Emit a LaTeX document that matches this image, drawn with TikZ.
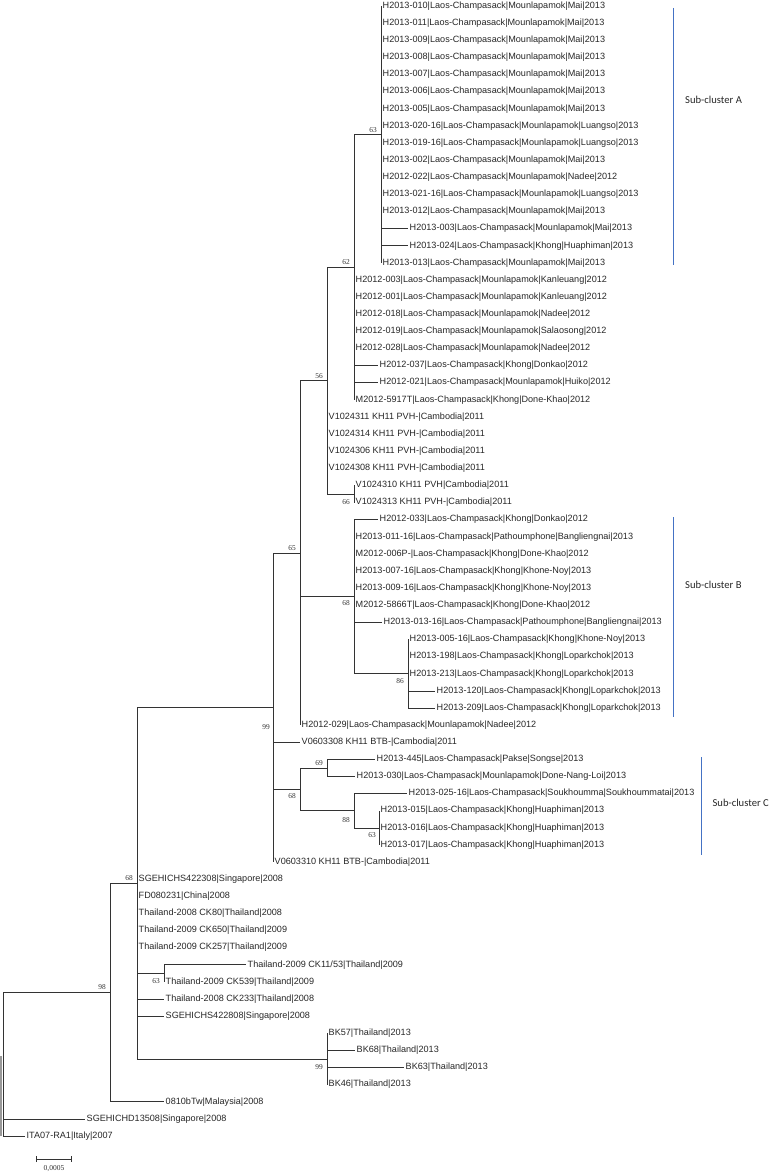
\documentclass[tikz,border=0pt]{standalone}
\usepackage{fontspec}
\setmainfont{Liberation Sans}
\newfontfamily\bootfont{Liberation Serif}
\newfontfamily\clusfont{Carlito}
\usetikzlibrary{arrows.meta}
\definecolor{clusblue}{RGB}{68,114,196}

\begin{document}
\begin{tikzpicture}[x=1pt,y=-1pt,
	leaf/.style={anchor=west, inner sep=1.5pt, text=black!85, font=\fontsize{9.1}{10}\selectfont},
	boot/.style={inner sep=0pt, text=black!80, font=\bootfont\fontsize{7.4}{8}\selectfont},
	bootup/.style={boot, anchor=south east},
	bootdown/.style={boot, anchor=north east},
	br/.style={line width=0.6pt, draw=black!80},
	clus/.style={line width=0.8pt, draw=clusblue},
	cluslab/.style={anchor=west, inner sep=0pt, text=black!85, font=\clusfont\fontsize{10.6}{12}\selectfont}]
	\useasboundingbox (0,0) rectangle (772,1174);

	\coordinate (root) at (3,1064.2);
	\coordinate (n98) at (110,992.4);
	\coordinate (n68) at (137,883.2);
	\coordinate (n99) at (273,707.4);
	\coordinate (n65) at (300,552.8);
	\coordinate (n56) at (327,380.5);
	\coordinate (n62) at (354,267.1);
	\coordinate (n63A) at (381,134.4);
	\coordinate (n66) at (354,494.0);
	\coordinate (nB) at (354,596.6);
	\coordinate (n86) at (408,673.7);
	\coordinate (nC) at (300,789.3);
	\coordinate (n69) at (327,767.9);
	\coordinate (n88) at (354,810.6);
	\coordinate (n63C) at (379,827.8);
	\coordinate (nCK) at (164,973.3);
	\coordinate (nBK) at (327,1058.9);

	\node[leaf] (l1) at (381,6.0) {H2013-010|Laos-Champasack|Mounlapamok|Mai|2013};
	\node[leaf] (l2) at (381,23.1) {H2013-011|Laos-Champasack|Mounlapamok|Mai|2013};
	\node[leaf] (l3) at (381,40.2) {H2013-009|Laos-Champasack|Mounlapamok|Mai|2013};
	\node[leaf] (l4) at (381,57.4) {H2013-008|Laos-Champasack|Mounlapamok|Mai|2013};
	\node[leaf] (l5) at (381,74.5) {H2013-007|Laos-Champasack|Mounlapamok|Mai|2013};
	\node[leaf] (l6) at (381,91.6) {H2013-006|Laos-Champasack|Mounlapamok|Mai|2013};
	\node[leaf] (l7) at (381,108.7) {H2013-005|Laos-Champasack|Mounlapamok|Mai|2013};
	\node[leaf] (l8) at (381,125.8) {H2013-020-16|Laos-Champasack|Mounlapamok|Luangso|2013};
	\node[leaf] (l9) at (381,143.0) {H2013-019-16|Laos-Champasack|Mounlapamok|Luangso|2013};
	\node[leaf] (l10) at (381,160.1) {H2013-002|Laos-Champasack|Mounlapamok|Mai|2013};
	\node[leaf] (l11) at (381,177.2) {H2012-022|Laos-Champasack|Mounlapamok|Nadee|2012};
	\node[leaf] (l12) at (381,194.3) {H2013-021-16|Laos-Champasack|Mounlapamok|Luangso|2013};
	\node[leaf] (l13) at (381,211.4) {H2013-012|Laos-Champasack|Mounlapamok|Mai|2013};
	\node[leaf] (l14) at (408,228.6) {H2013-003|Laos-Champasack|Mounlapamok|Mai|2013};
	\node[leaf] (l15) at (408,245.7) {H2013-024|Laos-Champasack|Khong|Huaphiman|2013};
	\node[leaf] (l16) at (381,262.8) {H2013-013|Laos-Champasack|Mounlapamok|Mai|2013};
	\node[leaf] (l17) at (354,279.9) {H2012-003|Laos-Champasack|Mounlapamok|Kanleuang|2012};
	\node[leaf] (l18) at (354,297.0) {H2012-001|Laos-Champasack|Mounlapamok|Kanleuang|2012};
	\node[leaf] (l19) at (354,314.2) {H2012-018|Laos-Champasack|Mounlapamok|Nadee|2012};
	\node[leaf] (l20) at (354,331.3) {H2012-019|Laos-Champasack|Mounlapamok|Salaosong|2012};
	\node[leaf] (l21) at (354,348.4) {H2012-028|Laos-Champasack|Mounlapamok|Nadee|2012};
	\node[leaf] (l22) at (378,365.5) {H2012-037|Laos-Champasack|Khong|Donkao|2012};
	\node[leaf] (l23) at (378,382.6) {H2012-021|Laos-Champasack|Mounlapamok|Huiko|2012};
	\node[leaf] (l24) at (354,399.8) {M2012-5917T|Laos-Champasack|Khong|Done-Khao|2012};
	\node[leaf] (l25) at (327,416.9) {V1024311 KH11 PVH-|Cambodia|2011};
	\node[leaf] (l26) at (327,434.0) {V1024314 KH11 PVH-|Cambodia|2011};
	\node[leaf] (l27) at (327,451.1) {V1024306 KH11 PVH-|Cambodia|2011};
	\node[leaf] (l28) at (327,468.2) {V1024308 KH11 PVH-|Cambodia|2011};
	\node[leaf] (l29) at (354,485.4) {V1024310 KH11 PVH|Cambodia|2011};
	\node[leaf] (l30) at (354,502.5) {V1024313 KH11 PVH-|Cambodia|2011};
	\node[leaf] (l31) at (378,519.6) {H2012-033|Laos-Champasack|Khong|Donkao|2012};
	\node[leaf] (l32) at (354,536.7) {H2013-011-16|Laos-Champasack|Pathoumphone|Bangliengnai|2013};
	\node[leaf] (l33) at (354,553.8) {M2012-006P-|Laos-Champasack|Khong|Done-Khao|2012};
	\node[leaf] (l34) at (354,571.0) {H2013-007-16|Laos-Champasack|Khong|Khone-Noy|2013};
	\node[leaf] (l35) at (354,588.1) {H2013-009-16|Laos-Champasack|Khong|Khone-Noy|2013};
	\node[leaf] (l36) at (354,605.2) {M2012-5866T|Laos-Champasack|Khong|Done-Khao|2012};
	\node[leaf] (l37) at (382,622.3) {H2013-013-16|Laos-Champasack|Pathoumphone|Bangliengnai|2013};
	\node[leaf] (l38) at (408,639.4) {H2013-005-16|Laos-Champasack|Khong|Khone-Noy|2013};
	\node[leaf] (l39) at (408,656.6) {H2013-198|Laos-Champasack|Khong|Loparkchok|2013};
	\node[leaf] (l40) at (408,673.7) {H2013-213|Laos-Champasack|Khong|Loparkchok|2013};
	\node[leaf] (l41) at (435,690.8) {H2013-120|Laos-Champasack|Khong|Loparkchok|2013};
	\node[leaf] (l42) at (435,707.9) {H2013-209|Laos-Champasack|Khong|Loparkchok|2013};
	\node[leaf] (l43) at (300,725.0) {H2012-029|Laos-Champasack|Mounlapamok|Nadee|2012};
	\node[leaf] (l44) at (300,742.2) {V0603308 KH11 BTB-|Cambodia|2011};
	\node[leaf] (l45) at (375,759.3) {H2013-445|Laos-Champasack|Pakse|Songse|2013};
	\node[leaf] (l46) at (355,776.4) {H2013-030|Laos-Champasack|Mounlapamok|Done-Nang-Loi|2013};
	\node[leaf] (l47) at (407,793.5) {H2013-025-16|Laos-Champasack|Soukhoumma|Soukhoummatai|2013};
	\node[leaf] (l48) at (379,810.6) {H2013-015|Laos-Champasack|Khong|Huaphiman|2013};
	\node[leaf] (l49) at (379,827.8) {H2013-016|Laos-Champasack|Khong|Huaphiman|2013};
	\node[leaf] (l50) at (379,844.9) {H2013-017|Laos-Champasack|Khong|Huaphiman|2013};
	\node[leaf] (l51) at (273,862.0) {V0603310 KH11 BTB-|Cambodia|2011};
	\node[leaf] (l52) at (137,879.1) {SGEHICHS422308|Singapore|2008};
	\node[leaf] (l53) at (137,896.2) {FD080231|China|2008};
	\node[leaf] (l54) at (137,913.4) {Thailand-2008 CK80|Thailand|2008};
	\node[leaf] (l55) at (137,930.5) {Thailand-2009 CK650|Thailand|2009};
	\node[leaf] (l56) at (137,947.6) {Thailand-2009 CK257|Thailand|2009};
	\node[leaf] (l57) at (246,964.7) {Thailand-2009 CK11/53|Thailand|2009};
	\node[leaf] (l58) at (164,981.8) {Thailand-2009 CK539|Thailand|2009};
	\node[leaf] (l59) at (164,999.0) {Thailand-2008 CK233|Thailand|2008};
	\node[leaf] (l60) at (164,1016.1) {SGEHICHS422808|Singapore|2008};
	\node[leaf] (l61) at (327,1033.2) {BK57|Thailand|2013};
	\node[leaf] (l62) at (355,1050.3) {BK68|Thailand|2013};
	\node[leaf] (l63) at (404,1067.4) {BK63|Thailand|2013};
	\node[leaf] (l64) at (327,1084.6) {BK46|Thailand|2013};
	\node[leaf] (l65) at (164,1101.7) {0810bTw|Malaysia|2008};
	\node[leaf] (l66) at (85,1118.8) {SGEHICHD13508|Singapore|2008};
	\node[leaf] (l67) at (25,1135.9) {ITA07-RA1|Italy|2007};

	\draw[br] (root) |- (n98);
	\draw[br] (root) |- (l66.west);
	\draw[br] (root) |- (l67.west);
	\draw[br] (n98) |- (n68);
	\draw[br] (n98) |- (l65.west);
	\draw[br] (n68) |- (n99);
	\draw[br] (n68) |- (nCK);
	\draw[br] (n68) |- (nBK);
	\foreach \i in {52,...,56,59,60}
		\draw[br] (n68) |- (l\i.west);
	\draw[br] (n99) |- (n65);
	\draw[br] (n99) |- (nC);
	\draw[br] (n99) |- (l44.west);
	\draw[br] (n99) |- (l51.west);
	\draw[br] (n65) |- (n56);
	\draw[br] (n65) |- (nB);
	\draw[br] (n65) |- (l43.west);
	\draw[br] (n56) |- (n62);
	\draw[br] (n56) |- (n66);
	\foreach \i in {25,...,28}
		\draw[br] (n56) |- (l\i.west);
	\draw[br] (n62) |- (n63A);
	\foreach \i in {17,...,24}
		\draw[br] (n62) |- (l\i.west);
	\foreach \i in {1,...,16}
		\draw[br] (n63A) |- (l\i.west);
	\draw[br] (n66) |- (l29.west);
	\draw[br] (n66) |- (l30.west);
	\draw[br] (nB) |- (n86);
	\foreach \i in {31,...,37}
		\draw[br] (nB) |- (l\i.west);
	\foreach \i in {38,...,42}
		\draw[br] (n86) |- (l\i.west);
	\draw[br] (nC) |- (n69);
	\draw[br] (nC) |- (n88);
	\draw[br] (n69) |- (l45.west);
	\draw[br] (n69) |- (l46.west);
	\draw[br] (n88) |- (l47.west);
	\draw[br] (n88) |- (n63C);
	\foreach \i in {48,49,50}
		\draw[br] (n63C) |- (l\i.west);
	\draw[br] (nCK) |- (l57.west);
	\draw[br] (nCK) |- (l58.west);
	\foreach \i in {61,...,64}
		\draw[br] (nBK) |- (l\i.west);
	\draw[line width=2pt, black!40] (1,1056) -- (1,1136);

	\node[bootup] (b63A) at ([xshift=-4pt,yshift=2pt]n63A) {63};
	\node[bootup] (b62) at ([xshift=-4pt,yshift=2pt]n62) {62};
	\node[bootup] (b56) at ([xshift=-4pt,yshift=2pt]n56) {56};
	\node[bootdown] (b66) at ([xshift=-4pt,yshift=-5pt]n66) {66};
	\node[bootup] (b65) at ([xshift=-4pt,yshift=2pt]n65) {65};
	\node[bootdown] (bB) at ([xshift=-4pt,yshift=-4pt]nB) {68};
	\node[bootdown] (b86) at ([xshift=-4pt,yshift=-5pt]n86) {86};
	\node[bootdown] (b99) at ([xshift=-3pt,yshift=-17pt]n99) {99};
	\node[bootup] (b69) at ([xshift=-4pt,yshift=2pt]n69) {69};
	\node[bootdown] (bC) at ([xshift=-4pt,yshift=-4pt]nC) {68};
	\node[bootdown] (b88) at ([xshift=-4pt,yshift=-7pt]n88) {88};
	\node[bootdown] (b63C) at ([xshift=-3pt,yshift=-5pt]n63C) {63};
	\node[bootup] (b68) at ([xshift=-4pt,yshift=2pt]n68) {68};
	\node[bootdown] (bCK) at ([xshift=-4pt,yshift=-5pt]nCK) {63};
	\node[bootdown] (bBK) at ([xshift=-4pt,yshift=-5pt]nBK) {99};
	\node[bootup] (b98) at ([xshift=-4pt,yshift=3pt]n98) {98};

	\draw[clus] (673,8) -- (673,265);
	\node[cluslab] (labA) at (685,100) {Sub-cluster A};
	\draw[clus] (673,517) -- (673,717);
	\node[cluslab] (labB) at (685,585) {Sub-cluster B};
	\draw[clus] (701,757) -- (701,855);
	\node[cluslab, anchor=east] (labC) at (769,803) {Sub-cluster C};

	\coordinate (sbL) at (36,1159);
	\coordinate (sbR) at (72,1159);
	\draw[br, {Bar[width=6pt]}-{Bar[width=6pt]}] (sbL) -- (sbR);
	\node[boot, font=\bootfont\fontsize{7.5}{8}\selectfont] (sblab) at (54,1169) {0,0005};
\end{tikzpicture}
\end{document}
